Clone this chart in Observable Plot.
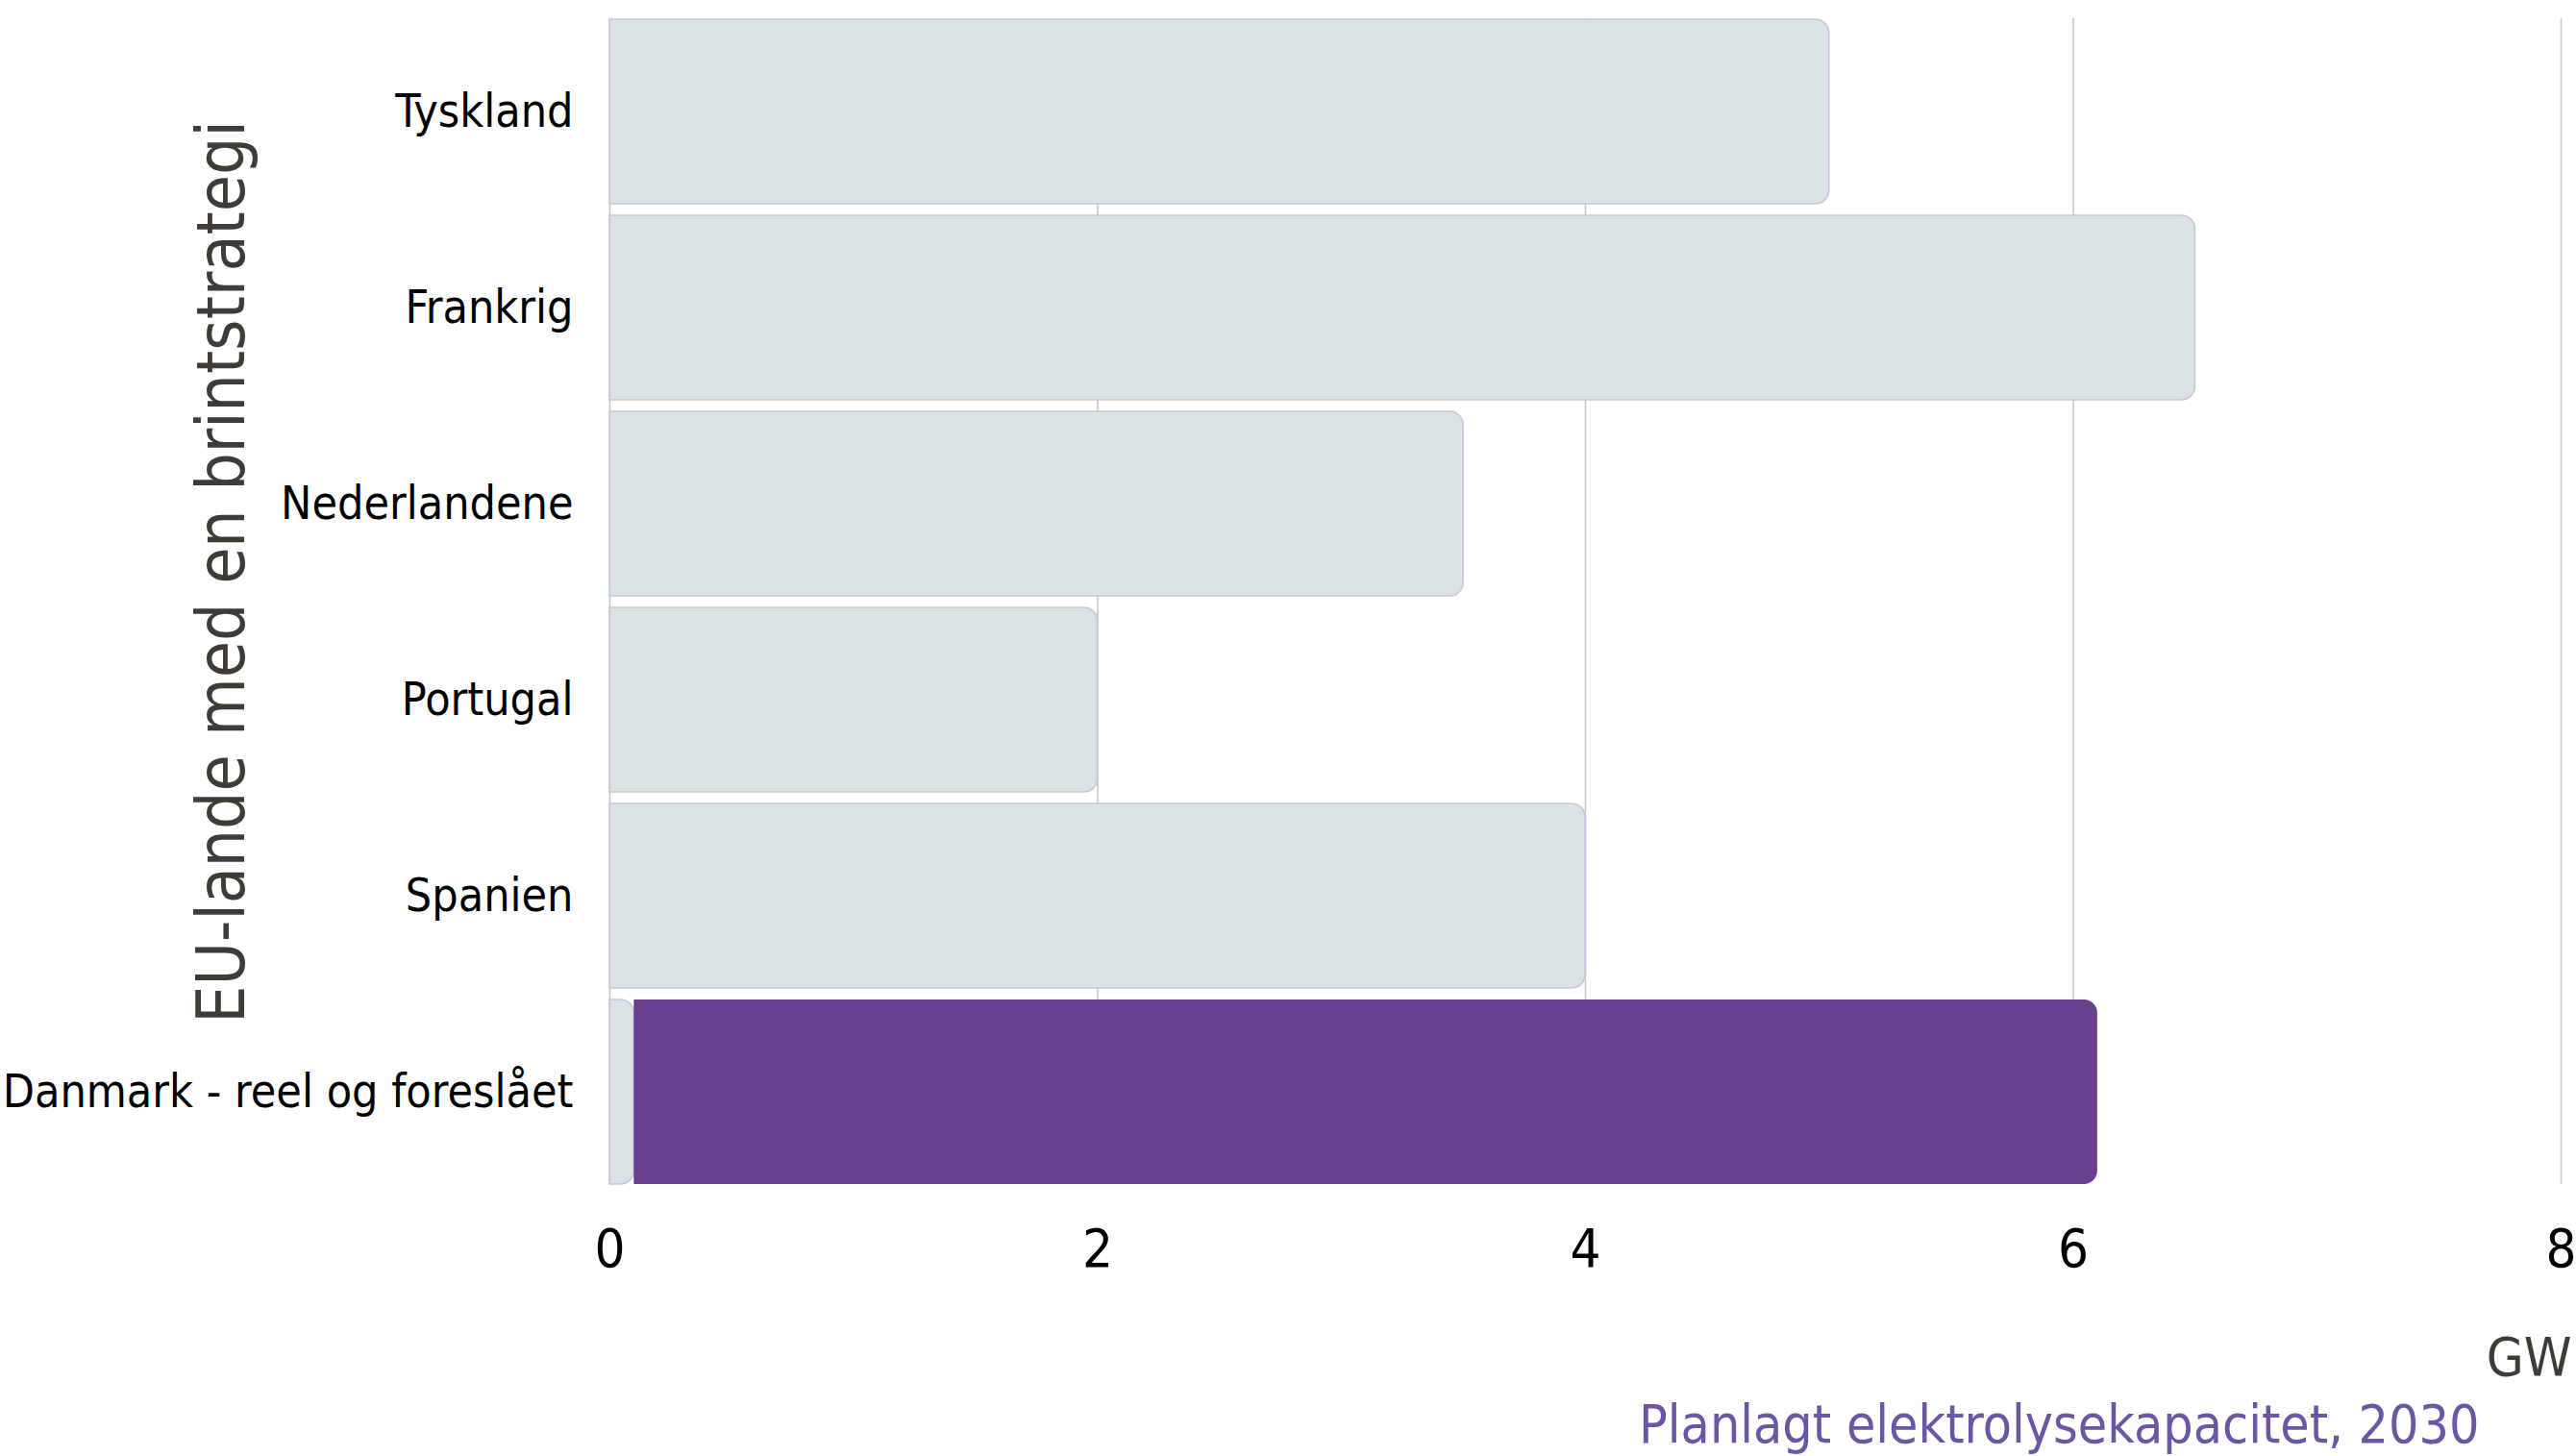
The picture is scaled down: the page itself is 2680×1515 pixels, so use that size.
<!DOCTYPE html>
<html>
<head>
<meta charset="utf-8">
<script src="https://cdn.jsdelivr.net/npm/d3@7"></script>
<script src="https://cdn.jsdelivr.net/npm/@observablehq/plot@0.6"></script>
<style>
  html, body { margin: 0; padding: 0; background: #fff; }
</style>
</head>
<body>
<div id="chart"></div>
<script>
const countries = ["Tyskland", "Frankrig", "Nederlandene", "Portugal", "Spanien", "Danmark - reel og foreslået"];
const planned = [5, 6.5, 3.5, 2, 4, 0.1];       // grey bars (Danmark: reel)
const proposed = [0, 0, 0, 0, 0, 6.0];          // purple (Danmark: foreslået)
const xTicks = [0, 2, 4, 6, 8];
const yTitle = "EU-lande med en brintstrategi";
const xUnit = "GW";
const caption = "Planlagt elektrolysekapacitet, 2030";

const font = "'DejaVu Sans Condensed', 'Liberation Sans Narrow', sans-serif";

const greyRows = countries.map((c, i) => ({country: c, value: planned[i]}));
const purpleRows = countries
  .map((c, i) => ({country: c, start: planned[i], end: planned[i] + proposed[i]}))
  .filter((d, i) => proposed[i] > 0);

const chart = Plot.plot({
  width: 2680,
  height: 1515,
  marginLeft: 634,
  marginRight: 16,
  marginTop: 19,
  marginBottom: 283,
  x: {domain: [0, 8]},
  y: {domain: countries, paddingInner: 0.06, paddingOuter: 0},
  style: {fontFamily: font, fontSize: "48px", color: "#000", background: "#fff"},
  marks: [
    Plot.gridX(xTicks, {stroke: "#c8c8cc", strokeOpacity: 1, strokeWidth: 1.6}),
    Plot.barX(greyRows, {y: "country", x: "value", fill: "#dce3e7", stroke: "#c6c7d8", strokeWidth: 1.6, rx2: 14}),
    Plot.barX(purpleRows, {y: "country", x1: "start", x2: "end", fill: "#693f8e", rx2: 14}),
    Plot.axisX({ticks: xTicks, tickSize: 0, tickPadding: 46, label: null, fontSize: 56}),
    Plot.axisY({tickSize: 0, tickPadding: 38, label: null, fontSize: 48}),
    Plot.text([xUnit], {frameAnchor: "bottom-right", dx: 11, dy: 198, textAnchor: "end", lineAnchor: "bottom", fontSize: 56, fill: "#3f3b37"}),
    Plot.text([caption], {frameAnchor: "bottom-right", dx: -85, dy: 268, textAnchor: "end", lineAnchor: "bottom", fontSize: 55, fill: "#6a56a4"}),
    Plot.text([yTitle], {frameAnchor: "left", rotate: -90, dx: -381, dy: -31, textAnchor: "middle", lineAnchor: "bottom", fontSize: 69, fill: "#3f3b37"})
  ]
});
document.getElementById("chart").appendChild(chart);
</script>
</body>
</html>
